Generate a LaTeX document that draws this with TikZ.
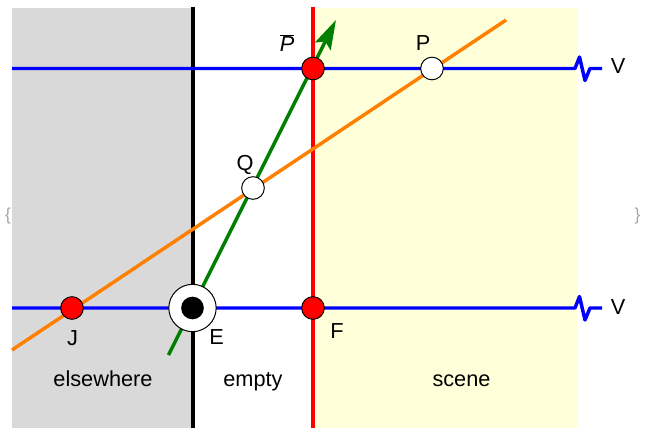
\documentclass[tikz,border=0pt]{standalone}
\usepackage{fontspec}
\setmainfont{Liberation Sans}
\usetikzlibrary{arrows.meta}
\definecolor{regiongray}{HTML}{D9D9D9}
\definecolor{sceneyellow}{HTML}{FFFFD9}
\definecolor{lineblue}{HTML}{0000FF}
\definecolor{lineorange}{HTML}{FF8000}
\definecolor{linegreen}{HTML}{008000}
\definecolor{linered}{HTML}{FF0000}
\begin{document}
\begin{tikzpicture}[x=0.75pt,y=-0.75pt,
  lbl/.style={anchor=base,inner sep=0pt,font=\fontsize{16.3}{19}\selectfont},
  brace/.style={inner sep=0pt,text=black!35,font=\fontsize{13}{15}\selectfont},
  thick line/.style={line width=2.6pt},
  reddot/.style={circle,draw=black,line width=0.75pt,fill=red,minimum size=17pt,inner sep=0pt},
  whitedot/.style={circle,draw=black,line width=0.75pt,fill=white,minimum size=17pt,inner sep=0pt},
  eyering/.style={circle,draw=black,line width=0.75pt,fill=white,minimum size=35.5pt,inner sep=0pt},
  eyepupil/.style={circle,fill=black,minimum size=17pt,inner sep=0pt}]
\useasboundingbox (0,0) rectangle (646,428);
% regions
\fill[regiongray] (12,8) rectangle (193,428);
\fill[sceneyellow] (313,8) rectangle (577,428);
% coordinates
\coordinate (wallTop) at (193,7);
\coordinate (wallBot) at (193,428);
\coordinate (screenTop) at (313,7);
\coordinate (screenBot) at (313,428);
\coordinate (vTopL) at (12,68.5);
\coordinate (vTopR) at (575,68.5);
\coordinate (vTopEnd) at (602,68.5);
\coordinate (vBotL) at (12,308);
\coordinate (vBotR) at (575,308);
\coordinate (vBotEnd) at (602,308);
\coordinate (orangeA) at (12,350);
\coordinate (orangeB) at (506,20);
\coordinate (greenA) at (168.5,355);
\coordinate (greenB) at (336,20);
% vertical lines
\draw[thick line,black] (wallTop) -- (wallBot);
\draw[line width=2.5pt,linered] (screenTop) -- (screenBot);
% horizontal blue lines with break marks
\draw[thick line,lineblue,line join=round] (vTopL) -- (vTopR) -- ++(4.5,-11.5) -- ++(5.5,23.5) -- ++(5,-12) -- (vTopEnd);
\draw[thick line,lineblue,line join=round] (vBotL) -- (vBotR) -- ++(4.5,-11.5) -- ++(5.5,23.5) -- ++(5,-12) -- (vBotEnd);
% orange and green lines
\draw[thick line,lineorange] (orangeA) -- (orangeB);
\draw[thick line,linegreen,-{Stealth[length=22pt,width=13pt,inset=4pt]}] (greenA) -- (greenB);
% points
\node[reddot] (Pbar) at (313,68.5) {};
\node[whitedot] (P) at (432,68.5) {};
\node[whitedot] (Q) at (253,188) {};
\node[reddot] (J) at (72,308) {};
\node[reddot] (F) at (313,308) {};
\node[eyering] (E) at (192.5,308) {};
\node[eyepupil] (Eye) at (192.5,308) {};
% labels
\node[lbl] (PbarL) at (287,51.7) {$\overline{\mbox{\itshape P}}$};
\node[lbl] (PL) at (423,50.7) {P};
\node[lbl] (QL) at (245,170.5) {Q};
\node[lbl] (JL) at (72.5,345) {J};
\node[lbl] (EL) at (216.5,344) {E};
\node[lbl] (FL) at (337,338.3) {F};
\node[lbl] (V1) at (618,73.3) {V};
\node[lbl] (V2) at (618,314.3) {V};
\node[lbl] (els) at (103,386) {elsewhere};
\node[lbl] (emp) at (253,386) {empty};
\node[lbl] (scn) at (461.5,386) {scene};
\node[brace] (lb) at (8,216) {\{};
\node[brace] (rb) at (637.5,216) {\}};
\end{tikzpicture}
\end{document}
